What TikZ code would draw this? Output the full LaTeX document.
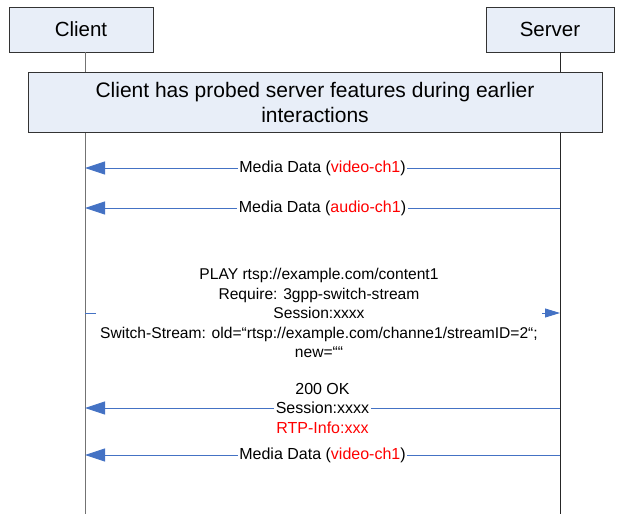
\documentclass[tikz,border=0pt]{standalone}
\usepackage{fontspec}
\setmainfont{Liberation Sans}
\usetikzlibrary{arrows.meta}
\definecolor{boxfill}{HTML}{E8EEF8}
\definecolor{arrowblue}{HTML}{4472C4}
\tikzset{
  actor/.style={draw=black!80, fill=boxfill, line width=0.8pt, minimum height=45pt, font=\fontsize{20.5}{24}\selectfont, inner sep=0pt},
  notebox/.style={draw=black!80, fill=boxfill, line width=0.8pt, minimum width=574pt, minimum height=60pt, align=center, font=\fontsize{21}{25}\selectfont, inner sep=0pt},
  lifeline/.style={line width=0.9pt},
  msg/.style={draw=arrowblue, line width=0.9pt, -{Triangle[length=20pt,width=13pt]}},
  smallmsg/.style={draw=arrowblue, line width=0.9pt, -{Triangle[length=15pt,width=9pt]}},
  lbl/.style={fill=white, inner sep=1.5pt, align=center, font=\fontsize{16}{19.5}\selectfont, text=black},
}
\begin{document}
\begin{tikzpicture}[x=1pt,y=-1pt]
\useasboundingbox (0,0) rectangle (621,514);
% actors
\node[actor, minimum width=144pt] (client) at (81,29.5) {Client};
\node[actor, minimum width=128pt] (server) at (550,29.5) {Server};
% lifeline anchors
\coordinate (ct) at (85,52);
\coordinate (st) at (560,52);
\coordinate (cb) at (85,514);
\coordinate (sb) at (560,514);
\draw[lifeline, draw=black!55] (ct) -- (cb);
\draw[lifeline, draw=black!85] (st) -- (sb);
% note
\node[notebox] (note) at (315,102) {Client has probed server features during earlier\\interactions};
% message endpoints
\coordinate (c1) at (85,168);  \coordinate (s1) at (560,168);
\coordinate (c2) at (85,208);  \coordinate (s2) at (560,208);
\coordinate (c3) at (85,313);  \coordinate (s3) at (560,313);
\coordinate (c4) at (85,408);  \coordinate (s4) at (560,408);
\coordinate (c5) at (85,455);  \coordinate (s5) at (560,455);
\draw[msg] (s1) -- node[lbl] (m1) {Media Data (\textcolor{red}{video-ch1})} (c1);
\draw[msg] (s2) -- node[lbl] (m2) {Media Data (\textcolor{red}{audio-ch1})} (c2);
\draw[smallmsg] (c3) -- node[lbl, pos=0.4926, inner xsep=4pt, font=\fontsize{15.6}{19.5}\selectfont] (m3) {PLAY rtsp://example.com/content1\\Require: 3gpp-switch-stream\\Session:xxxx\\Switch-Stream: old=“rtsp://example.com/channe1/streamID=2“;\\new=““} (s3);
\draw[msg] (s4) -- node[lbl] (m4) {200 OK\\Session:xxxx\\\textcolor{red}{RTP-Info:xxx}} (c4);
\draw[msg] (s5) -- node[lbl] (m5) {Media Data (\textcolor{red}{video-ch1})} (c5);
\end{tikzpicture}
\end{document}
